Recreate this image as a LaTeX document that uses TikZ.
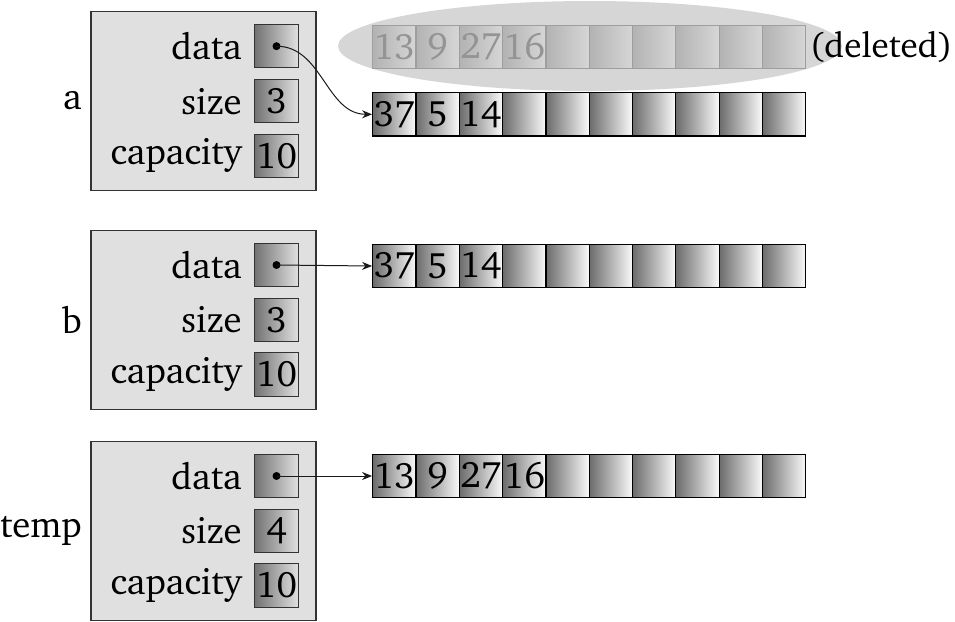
\documentclass[tikz,border=0pt]{standalone}
\usepackage[T1]{fontenc}
\usepackage{charter}
\usepackage{tikz}
\usetikzlibrary{positioning,arrows.meta}

\begin{document}
\begin{tikzpicture}[x=0.5pt,y=-0.5pt,line width=0.5pt,font=\fontsize{18.4}{21}\selectfont,
  obj/.style={draw=black!80,fill=black!12,line width=0.75pt,minimum width=112.5pt,minimum height=89.5pt,inner sep=0pt},
  val/.style={draw=black!80,left color=black!55,right color=black!12,minimum size=21.7pt,inner sep=0pt},
  cell/.style={draw=black,line width=0.6pt,left color=black!58,right color=black!2,minimum width=21.65pt,minimum height=21.7pt,inner sep=0pt},
  oldcell/.style={draw=black!38,line width=0.6pt,left color=black!30,right color=black!16,text=black!42,minimum width=21.65pt,minimum height=21.7pt,inner sep=0pt},
  field/.style={left=6pt of #1,inner sep=0pt},
  ptr/.style={-{Stealth[length=5pt,width=4pt]},black!90}]
\useasboundingbox (0,0) rectangle (955,622);

% the deleted block
\fill[black!16] (590,46) ellipse (252 and 45);
\foreach \v [count=\i from 0] in {13,9,27,16,{},{},{},{},{},{}}
  \node[oldcell] (old-\i) at (372.7+43.3*\i+21.65,47) {\v};
\node[right=1.5pt of old-9,inner sep=0pt,font=\fontsize{17.6}{21}\selectfont] (deleted) {(deleted)};

% objects
\node[obj] (a) at (203.5,101.2) {};
\node[obj] (b) at (203.5,320) {};
\node[obj] (temp) at (203.5,531) {};
\node[left=4pt of a,inner sep=0pt] (alabel) {a};
\node[left=4pt of b,inner sep=0pt] (blabel) {b};
\node[left=4pt of temp,inner sep=0pt] (templabel) {temp};

\foreach \o/\s in {a/3,b/3,temp/4} {
  \node[val] (\o data) at ([xshift=36.5pt,yshift=27.5pt]\o.center) {};
  \node[val] (\o size) at ([xshift=36.5pt]\o.center) {\s};
  \node[val] (\o cap) at ([xshift=36.5pt,yshift=-27.25pt]\o.center) {10};
  \node[field=\o data] {data};
  \node[field=\o size] {size};
  \node[field=\o cap] {capacity};
  \fill (\o data.center) circle (2pt);
}

% arrays
\foreach \v [count=\i from 0] in {37,5,14,{},{},{},{},{},{},{}}
  \node[cell] (a-\i) at (372.7+43.3*\i+21.65,114.3) {\v};
\foreach \v [count=\i from 0] in {37,5,14,{},{},{},{},{},{},{}}
  \node[cell] (b-\i) at (372.7+43.3*\i+21.65,266) {\v};
\foreach \v [count=\i from 0] in {13,9,27,16,{},{},{},{},{},{}}
  \node[cell] (t-\i) at (372.7+43.3*\i+21.65,476) {\v};

% pointers
\draw[ptr] (adata.center) to[out=0,in=180] (a-0.west);
\draw[ptr] (bdata.center) -- (b-0.west);
\draw[ptr] (tempdata.center) -- (t-0.west);
\end{tikzpicture}
\end{document}
